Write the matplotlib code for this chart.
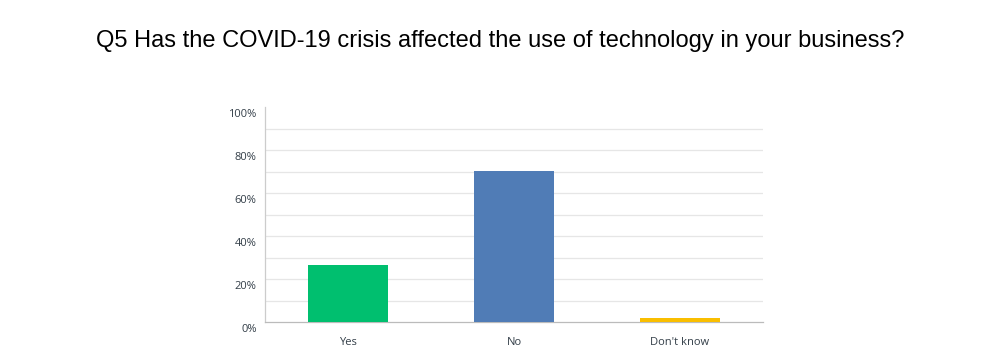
import numpy as np
import matplotlib
matplotlib.use('Agg')
import matplotlib.pyplot as plt
import matplotlib.transforms as mtransforms
from matplotlib.ticker import MultipleLocator, FuncFormatter

# data
categories = ['Yes', 'No', "Don't know"]
values = [26.6, 70.3, 2.0]
colors = ['#00BF6F', '#507CB6', '#F9BE00']
title = 'Q5 Has the COVID-19 crisis affected the use of technology in your business?'

fig = plt.figure(figsize=(10, 3.6), dpi=100)
ax = fig.add_axes([0.265, 0.1056, 0.498, 0.5958])

x = np.arange(len(categories))
ax.bar(x, values, width=0.48, color=colors, zorder=3)

ax.set_xlim(-0.5, len(categories) - 0.5)
ax.set_ylim(0, 100)
ax.yaxis.set_major_locator(MultipleLocator(20))
ax.yaxis.set_major_formatter(FuncFormatter(lambda v, p: f'{v:.0f}%'))

# gridlines every 10%, skip the top one
for g in range(10, 100, 10):
    ax.axhline(g, color='#e6e6e6', lw=0.9, zorder=1)

ax.set_xticks(x)
ax.set_xticklabels(categories)
ax.tick_params(axis='both', which='both', length=0, labelsize=8, labelcolor='#333e48')
ax.tick_params(axis='x', pad=11)
ax.tick_params(axis='y', pad=6)
for lab in ax.get_yticklabels() + ax.get_xticklabels():
    lab.set_fontfamily('Open Sans')

# y labels sit a little below their gridlines
offset = mtransforms.ScaledTranslation(0, -4 / 72, fig.dpi_scale_trans)
for lab in ax.get_yticklabels():
    lab.set_transform(lab.get_transform() + offset)

for s in ['top', 'right']:
    ax.spines[s].set_visible(False)
ax.spines['left'].set_color('#cccccc')
ax.spines['bottom'].set_color('#bbbbbb')
ax.spines['left'].set_linewidth(0.9)
ax.spines['bottom'].set_linewidth(0.9)

fig.text(0.5, 0.885, title, ha='center', va='center', fontsize=17, family='Liberation Sans', color='#000000')

fig.savefig('out.png', dpi=100)
